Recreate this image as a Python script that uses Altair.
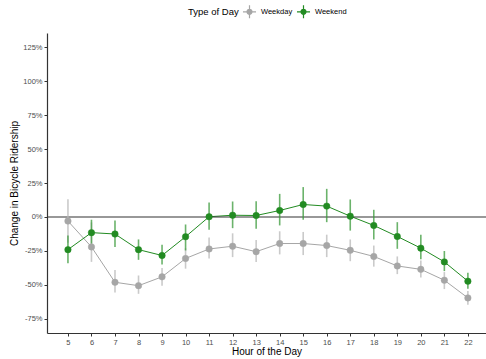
import altair as alt
import pandas as pd

hours = list(range(5, 23))
weekday_mean = [-3, -22, -48, -50.5, -44, -30.5, -23.5, -21.5, -25.5, -19.5, -19.5, -21, -24.5, -29, -36, -38.5, -46.5, -59.5]
weekday_lo = [-19, -33, -55.5, -56.5, -50.5, -38, -30.5, -29.5, -33, -27.5, -28, -29.5, -32.5, -36.5, -42, -44.5, -53, -64.5]
weekday_hi = [13, -4, -39, -43, -37.5, -23, -15, -12, -17, -10.5, -11, -13, -16.5, -21, -29, -32, -40.5, -54.5]
weekend_mean = [-24, -11.5, -12.5, -24, -28.3, -14.5, 0.2, 1.3, 1.1, 4.8, 9.2, 8, 0.6, -6.2, -14.3, -22.9, -33, -47.2]
weekend_lo = [-34, -19.7, -22, -31.5, -35, -24.6, -9.4, -8.2, -8.7, -6.2, -2, -3.8, -10, -16.5, -23.4, -31, -39.8, -52.8]
weekend_hi = [-13.6, -2, -2.6, -16.5, -20.4, -5.5, 10.6, 11.4, 11.6, 17, 22, 20.7, 12.9, 5.3, -3.8, -13, -25, -41]

rows = []
for i, h in enumerate(hours):
    rows.append({"hour": h, "type": "Weekday", "mean": weekday_mean[i], "lo": weekday_lo[i], "hi": weekday_hi[i]})
    rows.append({"hour": h, "type": "Weekend", "mean": weekend_mean[i], "lo": weekend_lo[i], "hi": weekend_hi[i]})
df = pd.DataFrame(rows)

FONT = "Liberation Sans"
dom = ["Weekday", "Weekend"]
rng = ["#a6a6a6", "#228b22"]
bar_rng = ["#b8b8b8", "#3a9a3a"]

xs = alt.Scale(domain=[4.11, 22.77], nice=False, zero=False)
ys = alt.Scale(domain=[-85.3, 135.3], nice=False, zero=False)

xaxis = alt.Axis(values=hours, title="Hour of the Day", grid=False, tickSize=3,
                 labelOverlap=False,
                 labelFontSize=7.5, labelColor="#4d4d4d", labelPadding=2,
                 titleFontSize=10, titleFont=FONT, labelFont=FONT, titleColor="#000000",
                 titleFontWeight="normal", titlePadding=1,
                 domainColor="#333333", tickColor="#333333", domainWidth=1.2)
yaxis = alt.Axis(values=[-75, -50, -25, 0, 25, 50, 75, 100, 125],
                 labelExpr="datum.value + '%'", title="Change in Bicycle Ridership",
                 labelOverlap=False,
                 grid=False, tickSize=3, labelFontSize=7.5, labelColor="#4d4d4d",
                 labelPadding=2, titleFontSize=10, titleFont=FONT, labelFont=FONT,
                 titleColor="#000000", titleFontWeight="normal", titlePadding=3,
                 domainColor="#333333", tickColor="#333333", domainWidth=1.2)

x = alt.X("hour:Q", scale=xs, axis=xaxis)
y = alt.Y("mean:Q", scale=ys, axis=yaxis)

base = alt.Chart(df)

bars = base.mark_rule(strokeWidth=1.6, opacity=0.75).encode(
    x=x,
    y=alt.Y("lo:Q", scale=ys, axis=yaxis),
    y2="hi:Q",
    color=alt.Color("type:N", scale=alt.Scale(domain=dom, range=bar_rng), legend=None),
)

zero = alt.Chart(pd.DataFrame({"z": [0]})).mark_rule(color="#333333", strokeWidth=1.2).encode(
    y=alt.Y("z:Q", scale=ys, axis=yaxis)
)

sym = "M-1,0H1M0,-1V1M0.38,0A0.38,0.38,0,1,1,-0.38,0A0.38,0.38,0,1,1,0.38,0Z"
leg = alt.Legend(title="Type of Day", orient="none", legendX=141, legendY=-29,
                 direction="horizontal", titleOrient="left", titleFontSize=9.5,
                 titleFont=FONT, titleFontWeight="normal", titleColor="#000000",
                 labelFontSize=7.5, labelFont=FONT, labelColor="#000000",
                 symbolType=sym, symbolSize=170, symbolStrokeWidth=1.2,
                 titlePadding=3, labelOffset=4, columnPadding=1, padding=0)

lines = base.mark_line(strokeWidth=1).encode(
    x=x, y=y,
    stroke=alt.Stroke("type:N", scale=alt.Scale(domain=dom, range=rng), legend=leg),
)

points = base.mark_point(filled=True, size=42, opacity=1, strokeWidth=0.5).encode(
    x=x, y=y,
    fill=alt.Fill("type:N", scale=alt.Scale(domain=dom, range=rng), legend=leg),
    stroke=alt.Stroke("type:N", scale=alt.Scale(domain=dom, range=rng), legend=leg),
)

chart = alt.layer(lines, zero, bars, points).resolve_scale(
    color="independent"
).properties(
    width=439, height=300,
    autosize=alt.AutoSizeParams(type="none"),
    padding={"left": 47, "top": 33, "right": 0, "bottom": 26},
    background="white",
).configure_view(stroke=None).configure_axis(labelOverlap=False)

chart.save("out.html", embed_options={"renderer": "svg", "actions": False})
